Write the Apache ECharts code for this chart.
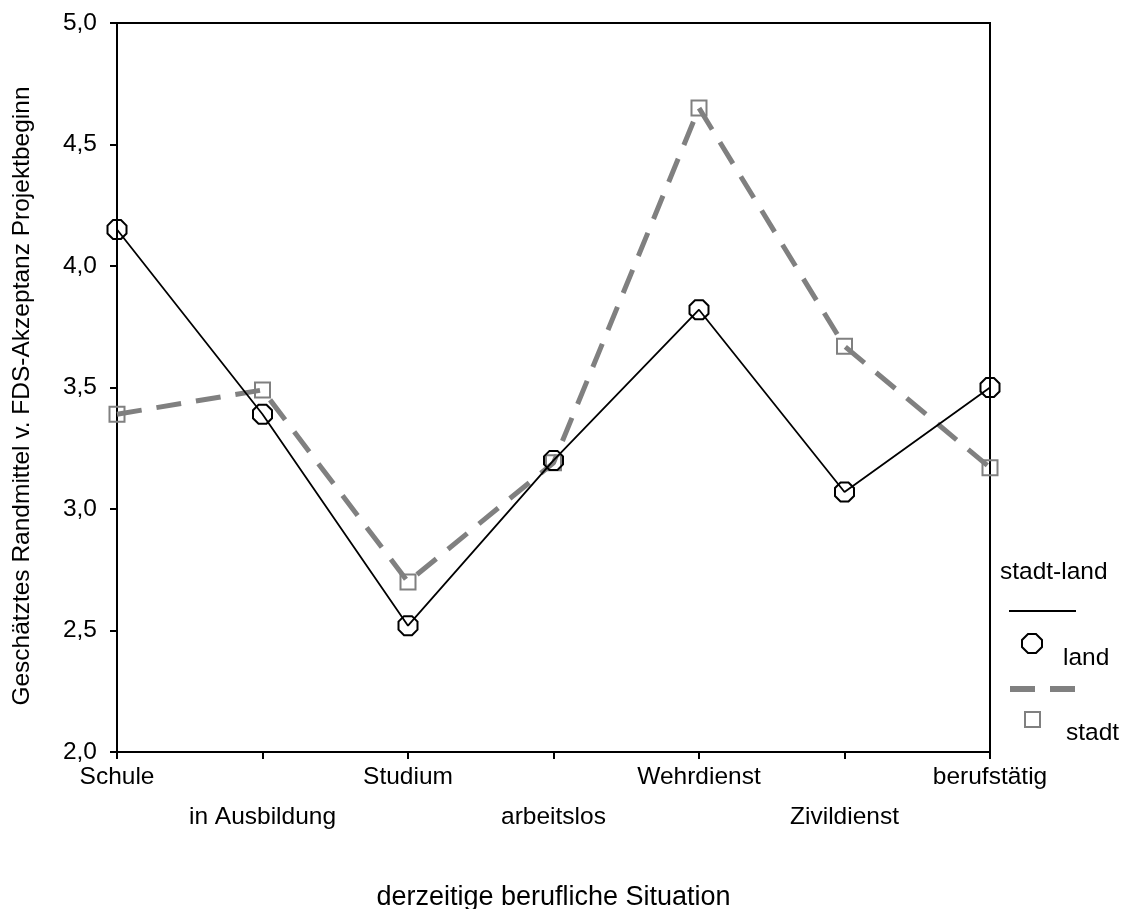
<!DOCTYPE html>
<html><head><meta charset="utf-8">
<script src="https://cdn.jsdelivr.net/npm/echarts@6/dist/echarts.min.js"></script>
<style>html,body{margin:0;padding:0;background:#fff}#c{width:1131px;height:909px}</style>
</head><body><div id="c"></div>
<script>
var categories = ['Schule','in Ausbildung','Studium','arbeitslos','Wehrdienst','Zivildienst','berufstätig'];
var landValues = [4.15, 3.39, 2.52, 3.20, 3.82, 3.07, 3.50];
var stadtValues = [3.39, 3.49, 2.70, 3.19, 4.65, 3.67, 3.17];
var yTicks = [2.0, 2.5, 3.0, 3.5, 4.0, 4.5, 5.0];
var seriesNames = ['land', 'stadt'];

var FONT = 'Liberation Sans, Arial, sans-serif';
var FS = 24.5;
var OCT = 'path://M29,0 L71,0 L100,29 L100,71 L71,100 L29,100 L0,71 L0,29 Z';
var chart = echarts.init(document.getElementById('c'), null, {renderer:'canvas'});
chart.setOption({
  backgroundColor: '#fff',
  animation: false,
  textStyle: {fontFamily: FONT},
  grid: {left: 117, right: 141, top: 23, bottom: 157, containLabel: false, outerBoundsMode: 'none',
    show: true, borderColor: '#000', borderWidth: 2, backgroundColor: 'transparent'},
  xAxis: {
    type: 'category', data: categories, boundaryGap: false,
    axisLine: {lineStyle: {color: '#000', width: 2}},
    axisTick: {show: true, length: 7, lineStyle: {color: '#000', width: 2}, alignWithLabel: true},
    axisLabel: {color: '#000', fontSize: FS, fontFamily: FONT, margin: 5, lineHeight: 40, interval: 0,
      formatter: function (v, i) { return i % 2 ? '\n' + v : v; }},
    name: 'derzeitige berufliche Situation', nameLocation: 'middle', nameGap: 132,
    nameTextStyle: {color: '#000', fontSize: 27, fontFamily: FONT},
    splitLine: {show: false}
  },
  yAxis: {
    type: 'value', min: yTicks[0], max: yTicks[yTicks.length - 1], interval: 0.5,
    axisLine: {show: true, lineStyle: {color: '#000', width: 2}},
    axisTick: {show: true, length: 7, lineStyle: {color: '#000', width: 2}},
    axisLabel: {color: '#000', fontSize: FS, fontFamily: FONT, margin: 20,
      formatter: function (v) { return v.toFixed(1).replace('.', ','); }},
    splitLine: {show: false},
    name: 'Geschätztes Randmittel v. FDS-Akzeptanz Projektbeginn', nameLocation: 'middle', nameGap: 82,
    nameTextStyle: {color: '#000', fontSize: FS, fontFamily: FONT, padding: [0, 17, 0, 0]}
  },
  series: [
    {name: seriesNames[0], type: 'line', data: landValues, symbol: OCT, symbolSize: 19, z: 3,
      lineStyle: {color: '#000', width: 1.8},
      itemStyle: {color: 'transparent', borderColor: '#000', borderWidth: 2}},
    {name: seriesNames[1], type: 'line', data: stadtValues, symbol: 'rect', symbolSize: 15, z: 2,
      lineStyle: {color: '#808080', width: 5, type: [25, 15]},
      itemStyle: {color: 'transparent', borderColor: '#808080', borderWidth: 2}}
  ],
  graphic: [
    {type: 'text', left: 1000, top: 560, style: {text: 'stadt-land', fontSize: FS, fontFamily: FONT, fill: '#000'}},
    {type: 'line', shape: {x1: 1009, y1: 611, x2: 1076, y2: 611}, style: {stroke: '#000', lineWidth: 2}},
    {type: 'polygon', shape: {points: [[1028,634],[1036,634],[1042,640],[1042,647],[1036,653],[1028,653],[1022,647],[1022,640]]},
      style: {fill: 'none', stroke: '#000', lineWidth: 2}},
    {type: 'text', left: 1063, top: 646, style: {text: seriesNames[0], fontSize: FS, fontFamily: FONT, fill: '#000'}},
    {type: 'line', shape: {x1: 1010, y1: 689, x2: 1075, y2: 689}, style: {stroke: '#808080', lineWidth: 6, lineDash: [25, 15]}},
    {type: 'rect', shape: {x: 1025, y: 712, width: 15, height: 15}, style: {fill: 'none', stroke: '#808080', lineWidth: 2}},
    {type: 'text', left: 1066, top: 721, style: {text: seriesNames[1], fontSize: FS, fontFamily: FONT, fill: '#000'}}
  ]
});
</script></body></html>
